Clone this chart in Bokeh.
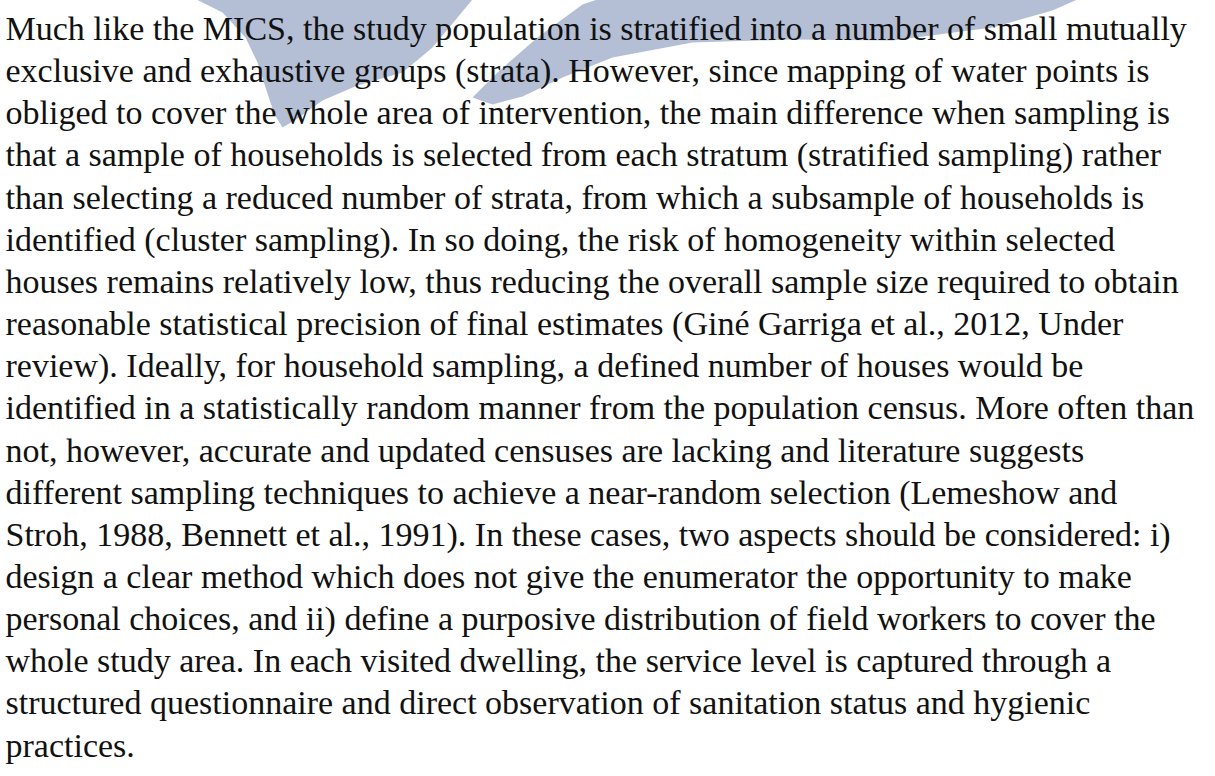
from bokeh.plotting import figure
from bokeh.models import Range1d
from bokeh.core.properties import value
from bokeh.embed import file_html
from bokeh.resources import INLINE

# paragraph lines (as laid out in the reference)
lines = [
    "Much like the MICS, the study population is stratified into a number of small mutually",
    "exclusive and exhaustive groups (strata). However, since mapping of water points is",
    "obliged to cover the whole area of intervention, the main difference when sampling is",
    "that a sample of households is selected from each stratum (stratified sampling) rather",
    "than selecting a reduced number of strata, from which a subsample of households is",
    "identified (cluster sampling). In so doing, the risk of homogeneity within selected",
    "houses remains relatively low, thus reducing the overall sample size required to obtain",
    "reasonable statistical precision of final estimates (Giné Garriga et al., 2012, Under",
    "review). Ideally, for household sampling, a defined number of houses would be",
    "identified in a statistically random manner from the population census. More often than",
    "not, however, accurate and updated censuses are lacking and literature suggests",
    "different sampling techniques to achieve a near-random selection (Lemeshow and",
    "Stroh, 1988, Bennett et al., 1991). In these cases, two aspects should be considered: i)",
    "design a clear method which does not give the enumerator the opportunity to make",
    "personal choices, and ii) define a purposive distribution of field workers to cover the",
    "whole study area. In each visited dwelling, the service level is captured through a",
    "structured questionnaire and direct observation of sanitation status and hygienic",
    "practices.",
]

# watermark outline (page pixel units)
body_x = [180, 230, 253, 265, 273, 282, 290, 305, 330, 365, 410, 440, 465, 490]
body_y = [-5, 20, 45, 70, 95, 122, 135, 126, 108, 93, 80, 55, 25, -5]
band_x = [640, 590, 545, 505, 480, 500, 530, 570, 620, 700, 800, 900, 1000, 1060, 1112]
band_y = [-5, 12, 45, 80, 105, 112, 104, 85, 65, 50, 47, 48, 35, 18, -5]

left_margin = 13
first_baseline = 36
line_gap = 42.15

W, H = 1215, 776
p = figure(width=W, height=H, output_backend="svg", toolbar_location=None,
           x_range=Range1d(0, W), y_range=Range1d(H, 0),
           min_border=0, background_fill_color="white", border_fill_color="white")
p.styles = {"margin": "-8px"}
p.axis.visible = False
p.grid.visible = False
p.outline_line_color = None

p.patch(body_x, body_y, fill_color="#b4bfd5", line_color=None)
p.patch(band_x, band_y, fill_color="#b4bfd5", line_color=None)

ys = [first_baseline + i * line_gap for i in range(len(lines))]
p.text(x=[left_margin] * len(lines), y=ys, text=lines,
       text_font=value("Liberation Serif"), text_font_size="34px",
       text_baseline="alphabetic", text_align="left", text_color="#111111")

open("out.html", "w").write(file_html(p, INLINE))
